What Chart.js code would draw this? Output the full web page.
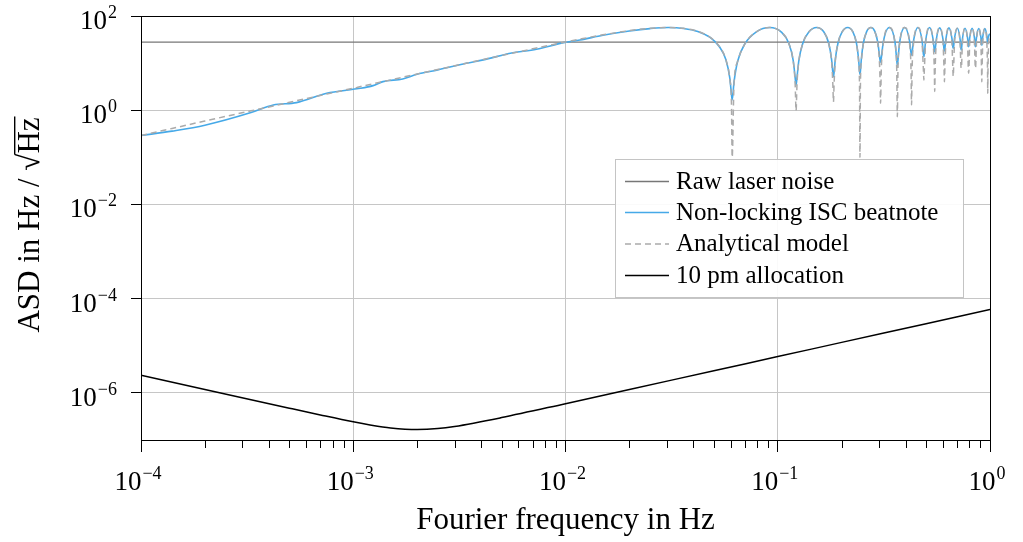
<!DOCTYPE html>
<html>
<head>
<meta charset="utf-8">
<script src="https://cdn.jsdelivr.net/npm/chart.js@4/dist/chart.umd.min.js"></script>
<style>
  html, body { margin: 0; padding: 0; background: #fff; }
</style>
</head>
<body>
<canvas id="chart" width="1023" height="542"></canvas>
<script>
// ── data (Hz, Hz/√Hz) ──
const freq = [
  1e-4, 1.4e-4, 2e-4, 3.3e-4, 4.2e-4, 5.4e-4, 7.5e-4, 1.04e-3, 1.24e-3, 1.38e-3,
  1.71e-3, 2e-3, 2.5e-3, 3.4e-3, 4.1e-3, 5.5e-3, 7.3e-3, 9.8e-3, 0.0117, 0.015,
  0.02, 0.025, 0.0305, 0.036, 0.042, 0.048, 0.053, 0.057, 0.0595, 0.0605, 0.061,
  0.06222, 0.06466, 0.07015, 0.0793, 0.0915, 0.1037, 0.11285, 0.11834, 0.12078, 0.122,
  0.12322, 0.12566, 0.13115, 0.1403, 0.1525, 0.1647, 0.17385, 0.17934, 0.18178, 0.183,
  0.18422, 0.18666, 0.19215, 0.2013, 0.2135, 0.2257, 0.23485, 0.24034, 0.24278, 0.244,
  0.24522, 0.24766, 0.25315, 0.2623, 0.2745, 0.2867, 0.29585, 0.30134, 0.30378, 0.305,
  0.30744, 0.31415, 0.3355, 0.35685, 0.36356, 0.366,
  0.36844, 0.37515, 0.3965, 0.41785, 0.42456, 0.427,
  0.42944, 0.43615, 0.4575, 0.47885, 0.48556, 0.488,
  0.49044, 0.49715, 0.5185, 0.53985, 0.54656, 0.549,
  0.55144, 0.55815, 0.5795, 0.60085, 0.60756, 0.61,
  0.61244, 0.61915, 0.6405, 0.66185, 0.66856, 0.671,
  0.67344, 0.68015, 0.7015, 0.72285, 0.72956, 0.732,
  0.73444, 0.74115, 0.7625, 0.78385, 0.79056, 0.793,
  0.79544, 0.80215, 0.8235, 0.84485, 0.85156, 0.854,
  0.85644, 0.86315, 0.8845, 0.90585, 0.91256, 0.915,
  0.91744, 0.92415, 0.9455, 0.96685, 0.97356, 0.976,
  0.97844, 0.98515, 1.0
];
const beatnote = [
  0.29, 0.36, 0.48, 0.89, 1.29, 1.45, 2.29, 2.85, 3.33, 4.05,
  4.61, 5.8, 7.16, 9.9, 11.7, 16.2, 19.7, 27.2, 30.9, 39,
  48, 54, 57, 54.5, 47, 35, 22.5, 11.8, 4.7, 2.2, 1.65,
  3.94, 10.8, 26, 46.1, 57, 46.2, 26.1, 11.2, 4.94, 3.4,
  4.94, 11.2, 26.1, 46.2, 57, 46.4, 26.4, 11.9, 6.3, 5.2,
  6.3, 11.9, 26.4, 46.4, 57, 46.5, 26.5, 12.2, 6.8, 5.8,
  6.8, 12.2, 26.5, 46.5, 57, 47.3, 27.9, 14.9, 11.0, 10.4,
  12.6, 27.9, 57, 27.5, 11.6, 9.1,
  11.6, 27.5, 57, 29.8, 16.4, 14.8,
  16.4, 29.8, 57, 29.3, 15.5, 13.7,
  15.5, 29.3, 57, 31.3, 18.9, 17.5,
  18.9, 31.3, 56, 31.6, 19.5, 18.1,
  19.5, 31.6, 56, 33.2, 21.9, 20.7,
  21.9, 33.2, 55, 32.1, 20.3, 19,
  20.3, 32.1, 55, 34.2, 23.5, 22.4,
  23.5, 34.2, 55, 34.2, 23.5, 22.4,
  23.5, 34.2, 54, 35.5, 25.3, 24.3,
  25.3, 35.5, 54, 36.9, 27.3, 26.3,
  27.3, 36.9, 42
];
const model = [
  0.29, 0.41, 0.59, 0.97, 1.23, 1.59, 2.2, 3.05, 3.64, 4.05,
  5.01, 5.86, 7.32, 9.93, 11.95, 15.9, 20.9, 27.6, 32.3, 39.8,
  48.9, 54.7, 57, 54.7, 47.3, 35.4, 22.8, 11.7, 4.4, 1.47, 0.1,
  3.58, 10.7, 25.9, 46.1, 57, 46.1, 25.9, 10.7, 3.58, 0.97,
  3.58, 10.7, 25.9, 46.1, 57, 46.1, 25.9, 10.7, 3.58, 1.5,
  3.58, 10.7, 25.9, 46.1, 57, 46.1, 25.9, 10.7, 3.58, 0.1,
  3.58, 10.7, 25.9, 46.1, 57, 46.1, 25.9, 10.7, 3.58, 1.4,
  7.14, 25.9, 57, 25.9, 7.14, 0.73,
  7.14, 25.9, 57, 25.9, 7.14, 1.3,
  7.14, 25.9, 57, 25.9, 7.14, 4.4,
  7.14, 25.9, 57, 25.9, 7.14, 2.5,
  7.14, 25.9, 56, 25.9, 7.14, 4.0,
  7.14, 25.9, 56, 25.9, 7.14, 5.2,
  7.14, 25.9, 55, 25.9, 8.6, 7.8,
  8.6, 25.9, 55, 25.9, 7.14, 6.1,
  7.14, 25.9, 55, 25.9, 8.6, 7.8,
  8.6, 25.9, 54, 25.9, 7.14, 4.0,
  7.14, 25.9, 54, 25.9, 7.14, 2.3,
  7.14, 25.9, 40
];
const rawFreq = [1e-4, 1];
const rawNoise = [28, 28];
const allocFreq = [
  1e-4, 2e-4, 5e-4, 7e-4, 1e-3, 1.2e-3, 1.5e-3, 2e-3, 2.5e-3, 3e-3,
  5e-3, 1e-2, 2e-2, 5e-2, 0.1, 0.2, 0.5, 1
];
const allocation = [
  2.36e-6, 1.18e-6, 4.73e-7, 3.4e-7, 2.43e-7, 2.09e-7, 1.805e-7, 1.67e-7, 1.75e-7, 1.94e-7,
  2.99e-7, 5.9e-7, 1.18e-6, 2.95e-6, 5.9e-6, 1.18e-5, 2.95e-5, 5.9e-5
];

// ── axis ticks ──
const xMajorTicks = [1e-4, 1e-3, 1e-2, 1e-1, 1];
const xExponents = ['\u22124', '\u22123', '\u22122', '\u22121', '0'];
const minorSteps = [2, 3, 4, 5, 6, 7, 8, 9];
const yMajorTicks = [1e-6, 1e-4, 1e-2, 1, 100];
const yExponents = ['\u22126', '\u22124', '\u22122', '0', '2'];

const SERIF = '"Liberation Serif", "DejaVu Serif", serif';
const GRID = '#c6c6c6';

const pts = (xs, ys) => xs.map((x, i) => ({ x, y: ys[i] }));

function drawPower(ctx, exp, px, baseY, align) {
  ctx.font = `27px ${SERIF}`;
  const wb = ctx.measureText('10').width;
  ctx.font = `18px ${SERIF}`;
  const we = ctx.measureText(exp).width;
  const total = wb + 1 + we;
  const left = align === 'right' ? px - total : px - total / 2;
  ctx.textAlign = 'left';
  ctx.textBaseline = 'alphabetic';
  ctx.font = `27px ${SERIF}`;
  ctx.fillText('10', left, baseY);
  ctx.font = `18px ${SERIF}`;
  ctx.fillText(exp, left + wb + 1, baseY - 11);
}

// frame, minor ticks, labels, titles and the legend box
const decorations = {
  id: 'decorations',
  afterDraw(chart) {
    const { ctx, chartArea: a, scales: { x, y } } = chart;
    ctx.save();
    ctx.fillStyle = '#000';
    ctx.strokeStyle = '#000';
    ctx.lineWidth = 1;

    // minor x ticks
    ctx.beginPath();
    xMajorTicks.slice(0, -1).forEach((d) => {
      minorSteps.forEach((k) => {
        const px = Math.round(x.getPixelForValue(k * d)) + 0.5;
        ctx.moveTo(px, a.bottom);
        ctx.lineTo(px, a.bottom + 8);
      });
    });
    ctx.stroke();

    // frame
    ctx.strokeRect(a.left + 0.5, a.top + 0.5, a.right - a.left, a.bottom - a.top);

    // tick labels
    xMajorTicks.forEach((v, i) => drawPower(ctx, xExponents[i], x.getPixelForValue(v) - 3, 490, 'center'));
    yMajorTicks.forEach((v, i) => drawPower(ctx, yExponents[i], 117, y.getPixelForValue(v) + 13, 'right'));

    // x title
    ctx.font = `31px ${SERIF}`;
    ctx.textAlign = 'center';
    ctx.textBaseline = 'alphabetic';
    ctx.fillText('Fourier frequency in Hz', (a.left + a.right) / 2, 529);

    // y title with radical and overline
    ctx.save();
    ctx.translate(39, 225);
    ctx.rotate(-Math.PI / 2);
    ctx.font = `31px ${SERIF}`;
    ctx.textAlign = 'left';
    const t1 = 'ASD in Hz / ', t2 = '\u221A', t3 = 'Hz';
    const w1 = ctx.measureText(t1).width;
    const m2 = ctx.measureText(t2);
    const w3 = ctx.measureText(t3).width;
    const total = w1 + m2.width + w3;
    const sx = -total / 2;
    ctx.fillText(t1, sx, 0);
    ctx.fillText(t2, sx + w1, 0);
    ctx.fillText(t3, sx + w1 + m2.width, 0);
    const top = m2.actualBoundingBoxAscent || 22;
    ctx.fillRect(sx + w1 + m2.width - 1, -top, w3 + 2, 1.4);
    ctx.restore();

    // legend
    const box = { left: 615.5, top: 159.5, right: 963.5, bottom: 297.5 };
    ctx.fillStyle = 'rgba(255,255,255,0.9)';
    ctx.fillRect(box.left, box.top, box.right - box.left, box.bottom - box.top);
    ctx.strokeStyle = '#c4c4c4';
    ctx.strokeRect(box.left, box.top, box.right - box.left, box.bottom - box.top);
    const rows = [181.5, 212.5, 244, 275.5];
    chart.data.datasets.forEach((ds, i) => {
      const ry = rows[i];
      ctx.strokeStyle = ds.borderColor;
      ctx.lineWidth = ds.borderWidth;
      ctx.setLineDash(ds.borderDash || []);
      ctx.beginPath();
      ctx.moveTo(625, ry);
      ctx.lineTo(669, ry);
      ctx.stroke();
      ctx.setLineDash([]);
      ctx.fillStyle = '#000';
      ctx.font = `25px ${SERIF}`;
      ctx.textAlign = 'left';
      ctx.fillText(ds.label, 676, ry + 7);
    });
    ctx.restore();
  },
};

new Chart(document.getElementById('chart'), {
  type: 'line',
  data: {
    datasets: [
      {
        label: 'Raw laser noise',
        data: pts(rawFreq, rawNoise),
        borderColor: '#777777',
        borderWidth: 1.3,
        order: 3,
      },
      {
        label: 'Non-locking ISC beatnote',
        data: pts(freq, beatnote),
        borderColor: '#46a9e8',
        borderWidth: 1.6,
        cubicInterpolationMode: 'monotone',
        order: 2,
      },
      {
        label: 'Analytical model',
        data: pts(freq, model),
        borderColor: '#ababab',
        borderWidth: 1.5,
        borderDash: [6, 4],
        cubicInterpolationMode: 'monotone',
        order: 1,
      },
      {
        label: '10 pm allocation',
        data: pts(allocFreq, allocation),
        borderColor: '#000000',
        borderWidth: 1.5,
        cubicInterpolationMode: 'monotone',
        order: 0,
      },
    ],
  },
  options: {
    responsive: false,
    animation: false,
    devicePixelRatio: 1,
    layout: { padding: { left: 131, right: 33, top: 16, bottom: 90 } },
    elements: { point: { radius: 0 }, line: { fill: false } },
    plugins: { legend: { display: false }, tooltip: { enabled: false } },
    scales: {
      x: {
        type: 'logarithmic',
        min: 1e-4,
        max: 1,
        afterBuildTicks: (scale) => {
          const ticks = [];
          xMajorTicks.forEach((d, i) => {
            ticks.push({ value: d, major: true });
            if (i < xMajorTicks.length - 1) minorSteps.forEach((k) => ticks.push({ value: k * d, major: false }));
          });
          scale.ticks = ticks;
        },
        ticks: { display: false },
        border: { display: false },
        grid: {
          color: (c) => (c.tick && c.tick.major ? GRID : 'rgba(0,0,0,0)'),
          tickColor: (c) => (c.tick && c.tick.major ? '#000' : 'rgba(0,0,0,0)'),
          tickLength: 12,
          lineWidth: 1,
        },
      },
      y: {
        type: 'logarithmic',
        min: 1e-7,
        max: 100,
        afterBuildTicks: (scale) => {
          scale.ticks = yMajorTicks.map((v) => ({ value: v, major: true }));
        },
        ticks: { display: false },
        border: { display: false },
        grid: { color: GRID, tickColor: '#000', tickLength: 10, lineWidth: 1 },
      },
    },
  },
  plugins: [decorations],
});
</script>
</body>
</html>
